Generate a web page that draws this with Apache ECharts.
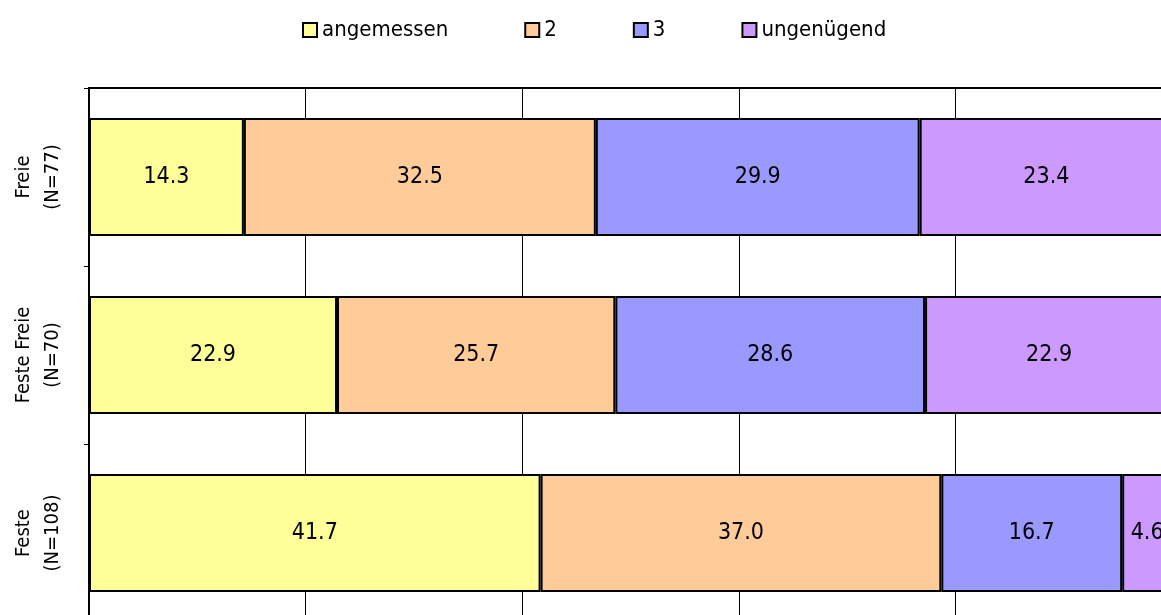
<!DOCTYPE html>
<html>
<head>
<meta charset="utf-8">
<script src="https://cdn.jsdelivr.net/npm/echarts@6/dist/echarts.min.js"></script>
<style>
  html, body { margin: 0; padding: 0; background: #fff; }
  #main { width: 1161px; height: 615px; }
</style>
</head>
<body>
<div id="main"></div>
<script>
var categories = ['Freie\n(N=77)', 'Feste Freie\n(N=70)', 'Feste\n(N=108)'];
var seriesNames = ['angemessen', '2', '3', 'ungenügend'];
var angemessen = [14.3, 22.9, 41.7];
var zwei = [32.5, 25.7, 37.0];
var drei = [29.9, 28.6, 16.7];
var ungenuegend = [23.4, 22.9, 4.6];
var colors = ['#FFFF99', '#FFCC99', '#9999FF', '#CC99FF'];

var dom = document.getElementById('main');
var myChart = echarts.init(dom);
var font = '"DejaVu Sans Condensed", "DejaVu Sans", sans-serif';

function makeSeries(name, data) {
    return {
        name: name,
        type: 'bar',
        stack: 'total',
        barWidth: 118,
        data: data,
        itemStyle: {
            borderColor: '#000',
            borderWidth: 2
        },
        label: {
            show: true,
            position: 'inside',
            color: '#000',
            fontSize: 23,
            fontFamily: font,
            formatter: function (p) {
                return p.value.toFixed(1);
            }
        }
    };
}

option = {
    animation: false,
    color: colors,
    textStyle: { fontFamily: font },
    legend: {
        top: 14,
        left: 297,
        itemWidth: 14,
        itemHeight: 14,
        itemGap: 76,
        icon: 'rect',
        itemStyle: { borderColor: '#000', borderWidth: 2 },
        textStyle: { fontSize: 22, color: '#000', fontFamily: font },
        data: seriesNames
    },
    grid: {
        left: 89,
        top: 88,
        width: 1083,
        height: 534,
        outerBoundsMode: 'none',
        containLabel: false,
        show: true,
        borderColor: '#000',
        borderWidth: 2,
        backgroundColor: 'transparent'
    },
    xAxis: {
        type: 'value',
        min: 0,
        max: 100,
        interval: 20,
        axisLabel: { show: false },
        axisLine: { show: false },
        axisTick: { show: false },
        splitLine: { lineStyle: { color: '#000', width: 1 } }
    },
    yAxis: {
        type: 'category',
        inverse: true,
        data: categories,
        axisLine: { lineStyle: { color: '#000', width: 2 } },
        axisTick: { show: true, length: 5, lineStyle: { color: '#000', width: 1 } },
        axisLabel: {
            rotate: 90,
            margin: 22,
            color: '#000',
            fontSize: 20,
            lineHeight: 29,
            fontFamily: font
        }
    },
    series: [
        makeSeries(seriesNames[0], angemessen),
        makeSeries(seriesNames[1], zwei),
        makeSeries(seriesNames[2], drei),
        makeSeries(seriesNames[3], ungenuegend)
    ]
};

myChart.setOption(option, true);
</script>
</body>
</html>
